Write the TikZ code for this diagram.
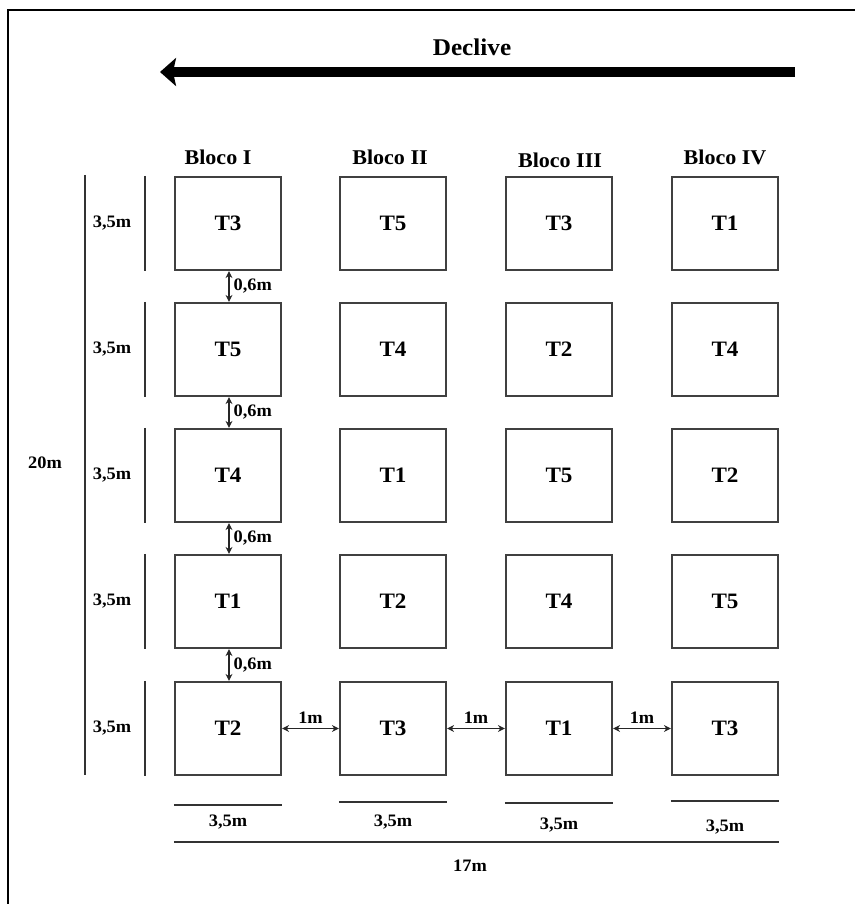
\documentclass[tikz,border=0pt]{standalone}
\usepackage{fontspec}
\setmainfont[FakeStretch=1.05]{Liberation Serif}
\usetikzlibrary{arrows.meta}
\tikzset{
  plot/.style={draw=black!75, line width=2.2pt, minimum width=106pt, minimum height=93pt, inner sep=0pt, font=\bfseries\fontsize{22}{24}\selectfont},
  bloco/.style={font=\bfseries\fontsize{21}{23}\selectfont},
  dimtxt/.style={font=\bfseries\fontsize{17.5}{19}\selectfont, inner sep=1pt},
  dimline/.style={draw=black!80, line width=1.8pt},
  dimarr/.style={draw=black!85, line width=1.4pt, {Stealth[length=7pt,width=7pt]}-{Stealth[length=7pt,width=7pt]}},
}
\begin{document}
\begin{tikzpicture}[x=1pt,y=-1pt]
\useasboundingbox (0,0) rectangle (854,904);
% frame
\draw[line width=2pt] (8,910) -- (8,10) -- (860,10);
% declive
\node[font=\bfseries\fontsize{24}{26}\selectfont] (dec) at (472,47) {Declive};
\coordinate (ds) at (795,72);
\coordinate (de) at (160,72);
\draw[line width=10pt, -{Stealth[length=16pt,width=28pt,inset=3pt]}] (ds) -- (de);
% bloco labels
\node[bloco] (bl1) at (218,157) {Bloco I};
\node[bloco] (bl2) at (390,157) {Bloco II};
\node[bloco] (bl3) at (560,160) {Bloco III};
\node[bloco] (bl4) at (725,157) {Bloco IV};
% plots
\foreach \r/\y/\a/\b/\c/\d in {1/223.5/T3/T5/T3/T1, 2/349.5/T5/T4/T2/T4, 3/475.5/T4/T1/T5/T2, 4/601.5/T1/T2/T4/T5, 5/728.5/T2/T3/T1/T3}{
  \node[plot] (b\r1) at (228,\y) {\a};
  \node[plot] (b\r2) at (393,\y) {\b};
  \node[plot] (b\r3) at (559,\y) {\c};
  \node[plot] (b\r4) at (725,\y) {\d};
}
% 0,6m arrows
\foreach \u/\l in {1/2,2/3,3/4,4/5}{
  \draw[dimarr] ([xshift=1pt]b\u1.south) -- ([xshift=1pt]b\l1.north)
    node[midway, right=3pt, dimtxt] (g\u) {0,6m};
}
% 1m arrows
\foreach \u/\l in {1/2,2/3,3/4}{
  \draw[dimarr] (b5\u.east) -- (b5\l.west)
    node[midway, above=3pt, dimtxt] (h\u) {1m};
}
% left dimension lines
\draw[dimline] (85,175) -- (85,775);
\node[dimtxt] (t20) at (45,463) {20m};
\foreach \r in {1,...,5}{
  \draw[dimline] (145,0 |- b\r1.north) -- (145,0 |- b\r1.south);
  \node[dimtxt] (v\r) at (112,0 |- b\r1.center) {3,5m};
}
% bottom dimension lines
\foreach \c/\ly/\ty in {1/805/822, 2/802/822, 3/803/825, 4/801/827}{
  \draw[dimline] (b5\c.west |- 0,\ly) -- (b5\c.east |- 0,\ly);
  \node[dimtxt] (w\c) at (b5\c.center |- 0,\ty) {3,5m};
}
\draw[dimline] (b51.west |- 0,842) -- (b54.east |- 0,842);
\node[dimtxt] (t17) at (470,866) {17m};
\end{tikzpicture}
\end{document}
